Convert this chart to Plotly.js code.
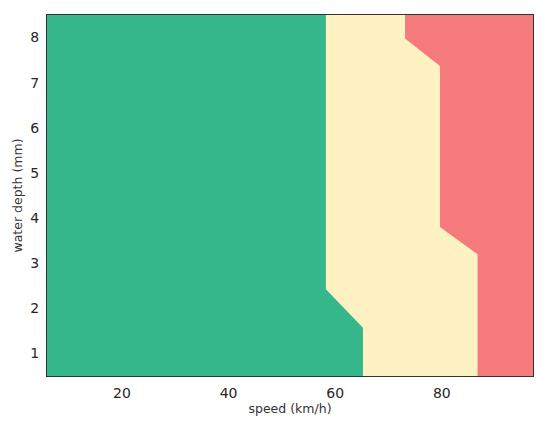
<!DOCTYPE html>
<html>
<head>
<meta charset="utf-8">
<script src="https://cdn.plot.ly/plotly-3.0.1.min.js"></script>
<style>html,body{margin:0;padding:0;background:#fff;}#chart{width:550px;height:424px;}</style>
</head>
<body>
<div id="chart"></div>
<script>
// Water depth levels (mm) where the class boundaries change
var depth = [0.5, 1.57, 2.42, 3.2, 3.8, 7.37, 7.98, 8.5];
// Speed (km/h) boundary between green (safe) and yellow (caution)
var greenYellowSpeed = [65.2, 65.2, 58.25, 58.25, 58.25, 58.25, 58.25, 58.25];
// Speed (km/h) boundary between yellow (caution) and red (danger)
var yellowRedSpeed = [86.7, 86.7, 86.7, 86.7, 79.65, 79.65, 73.1, 73.1];
// Maximum speed of the grid (km/h)
var maxSpeed = [97.1, 97.1, 97.1, 97.1, 97.1, 97.1, 97.1, 97.1];
var speedRange = [5.94, 97.1];
var depthRange = [0.5, 8.5];
var xTicks = [20, 40, 60, 80];
var yTicks = [1, 2, 3, 4, 5, 6, 7, 8];

var colors = {green: '#36b68b', yellow: '#fef1c2', red: '#f47a7b'};

function band(x, color) {
  return {
    x: x, y: depth, type: 'scatter', mode: 'lines',
    line: {width: 0}, fill: 'tozerox', fillcolor: color,
    hoverinfo: 'skip', showlegend: false
  };
}

var data = [
  band(maxSpeed, colors.red),
  band(yellowRedSpeed, colors.yellow),
  band(greenYellowSpeed, colors.green)
];

var layout = {
  width: 550, height: 424,
  margin: {l: 47, r: 17, t: 15, b: 48},
  paper_bgcolor: '#fff', plot_bgcolor: '#fff',
  font: {family: 'DejaVu Sans', color: '#262626'},
  xaxis: {
    range: speedRange, tickvals: xTicks, showgrid: false, zeroline: false,
    showline: true, mirror: true, linecolor: '#333', linewidth: 1,
    ticks: 'outside', ticklen: 4, tickcolor: 'rgba(0,0,0,0)',
    tickfont: {size: 14, color: '#262626'},
    title: {text: 'speed (km/h)', font: {size: 12.5, color: '#333'}, standoff: 3},
    automargin: false
  },
  yaxis: {
    range: depthRange, tickvals: yTicks, showgrid: false, zeroline: false,
    showline: true, mirror: true, linecolor: '#333', linewidth: 1,
    ticks: 'outside', ticklen: 4, tickcolor: 'rgba(0,0,0,0)',
    tickfont: {size: 14, color: '#262626'},
    title: {text: 'water depth (mm)', font: {size: 12.5, color: '#333'}, standoff: 4},
    automargin: false
  }
};

Plotly.newPlot('chart', data, layout, {displayModeBar: false, staticPlot: true});
</script>
</body>
</html>
